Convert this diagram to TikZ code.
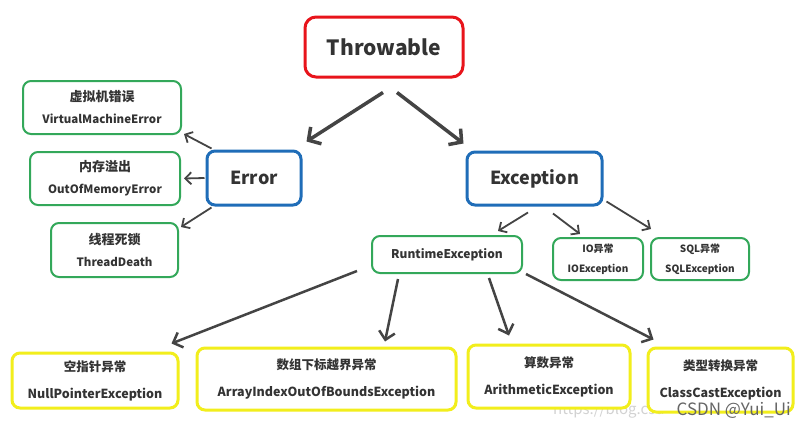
\documentclass[tikz,border=0pt]{standalone}
\usepackage{fontspec}
\setmainfont{Noto Sans CJK SC}
\usetikzlibrary{arrows.meta}
\definecolor{cred}{HTML}{E8141B}
\definecolor{cblue}{HTML}{1F6DB8}
\definecolor{cgreen}{HTML}{33A85A}
\definecolor{cyellow}{HTML}{F2EE1C}
\definecolor{ctext}{HTML}{333333}
\definecolor{carrow}{HTML}{444444}
\newcommand\zhsz[2]{{\fontsize{#1}{#1}\selectfont #2}}
\tikzset{
  box/.style={draw, rectangle, rounded corners=8pt, inner sep=0pt, align=center,
    text=ctext, font=\bfseries, fill=white},
  redbox/.style={box, draw=cred, line width=3pt, rounded corners=11pt, font=\bfseries\fontsize{21}{24}\selectfont},
  bluebox/.style={box, draw=cblue, line width=3pt, font=\bfseries\fontsize{18}{22}\selectfont},
  greenbox/.style={box, draw=cgreen, line width=2pt, font=\bfseries\fontsize{11.5}{22}\selectfont},
  smallgreen/.style={box, draw=cgreen, line width=2pt, font=\bfseries\fontsize{10}{20}\selectfont},
  yellowbox/.style={box, draw=cyellow, line width=3pt, font=\bfseries\fontsize{12.5}{27}\selectfont},
  bigarr/.style={draw=carrow, line width=3.5pt, -{Straight Barb[length=9pt,width=20pt,line width=3.5pt]}},
  midarr/.style={draw=carrow, line width=2.5pt, -{Straight Barb[length=8pt,width=16pt,line width=2.5pt]}},
  thinarr/.style={draw=carrow, line width=1.8pt, -{Straight Barb[length=6pt,width=12pt,line width=1.8pt]}},
}
\begin{document}
\begin{tikzpicture}[x=1pt,y=-1pt]
\useasboundingbox[fill=white] (0,0) rectangle (803,429);

% watermark (behind)
\node[anchor=west, inner sep=0pt, text=gray!35, font=\fontsize{15}{15}\selectfont] (url) at (553,410) {https://blog.csd};

\node[redbox, minimum width=158pt, minimum height=60pt] (thr) at (384,47) {Throwable};
\node[bluebox, minimum width=94pt, minimum height=54pt] (err) at (254,178) {Error};
\node[bluebox, minimum width=135pt, minimum height=53pt] (exc) at (534.5,178.5) {Exception};

\node[greenbox, minimum width=158pt, minimum height=53pt] (vm) at (102,107.5) {\zhsz{13}{虚拟机错误}\\VirtualMachineError};
\node[greenbox, minimum width=150pt, minimum height=53pt] (oom) at (105,178.5) {\zhsz{13}{内存溢出}\\OutOfMemoryError};
\node[greenbox, minimum width=127pt, minimum height=54pt] (td) at (114.5,250) {\zhsz{13}{线程死锁}\\ThreadDeath};

\node[greenbox, minimum width=150pt, minimum height=37pt, font=\bfseries\fontsize{12}{14}\selectfont] (rt) at (447,254.5) {RuntimeException};
\node[smallgreen, minimum width=90pt, minimum height=42pt] (io) at (598,259) {IO异常\\IOException};
\node[smallgreen, minimum width=98pt, minimum height=42pt] (sql) at (700,259) {SQL异常\\SQLException};

\node[yellowbox, minimum width=166pt, minimum height=55pt] (np) at (95,380.5) {空指针异常\\NullPointerException};
\node[yellowbox, minimum width=259pt, minimum height=62pt] (ai) at (326.5,379) {数组下标越界异常\\ArrayIndexOutOfBoundsException};
\node[yellowbox, minimum width=162pt, minimum height=63pt] (ar) at (549,376.5) {算数异常\\ArithmeticException};
\node[yellowbox, minimum width=145pt, minimum height=64pt] (cc) at (720.5,380) {类型转换异常\\ClassCastException};

% arrows from Throwable
\draw[bigarr] ([xshift=-1pt,yshift=-14pt]thr.south) -- ([xshift=4pt,yshift=8pt]err.north east);
\draw[bigarr] ([xshift=13pt,yshift=-14pt]thr.south) -- ([xshift=-2pt,yshift=7pt]exc.north west);

% arrows from Error
\draw[thinarr] ([xshift=6pt,yshift=1pt]err.north west) -- ([xshift=2pt,yshift=1pt]vm.south east);
\draw[thinarr] ([xshift=-1pt]err.west) -- ([xshift=3pt]oom.east);
\draw[thinarr] ([xshift=6pt,yshift=-1pt]err.south west) -- ([xshift=2pt,yshift=-5pt]td.north east);

% arrows from Exception
\draw[thinarr] ([xshift=-6.5pt,yshift=-6pt]exc.south) -- ([xshift=51pt,yshift=4pt]rt.north);
\draw[thinarr] ([xshift=18.5pt,yshift=-7pt]exc.south) -- ([xshift=-18pt,yshift=3pt]io.north);
\draw[thinarr] ([xshift=3pt,yshift=5pt]exc.south east) -- ([xshift=1pt,yshift=8pt]sql.north west);

% arrows from RuntimeException
\draw[midarr] ([xshift=-14pt,yshift=3pt]rt.south west) -- ([xshift=-8pt,yshift=8pt]np.north east);
\draw[midarr] ([xshift=-49pt,yshift=-5pt]rt.south) -- ([xshift=58.5pt,yshift=5pt]ai.north);
\draw[midarr] ([xshift=42pt,yshift=-4pt]rt.south) -- ([xshift=-40pt,yshift=8pt]ar.north);
\draw[midarr] ([xshift=3pt]rt.south east) -- ([xshift=7pt,yshift=7pt]cc.north west);

% watermark (front)
\node[anchor=east, inner sep=0pt, text=gray!80!black, font=\fontsize{17}{17}\selectfont] (csdn) at (791,410) {CSDN @Yui\_Ui};
\end{tikzpicture}
\end{document}
